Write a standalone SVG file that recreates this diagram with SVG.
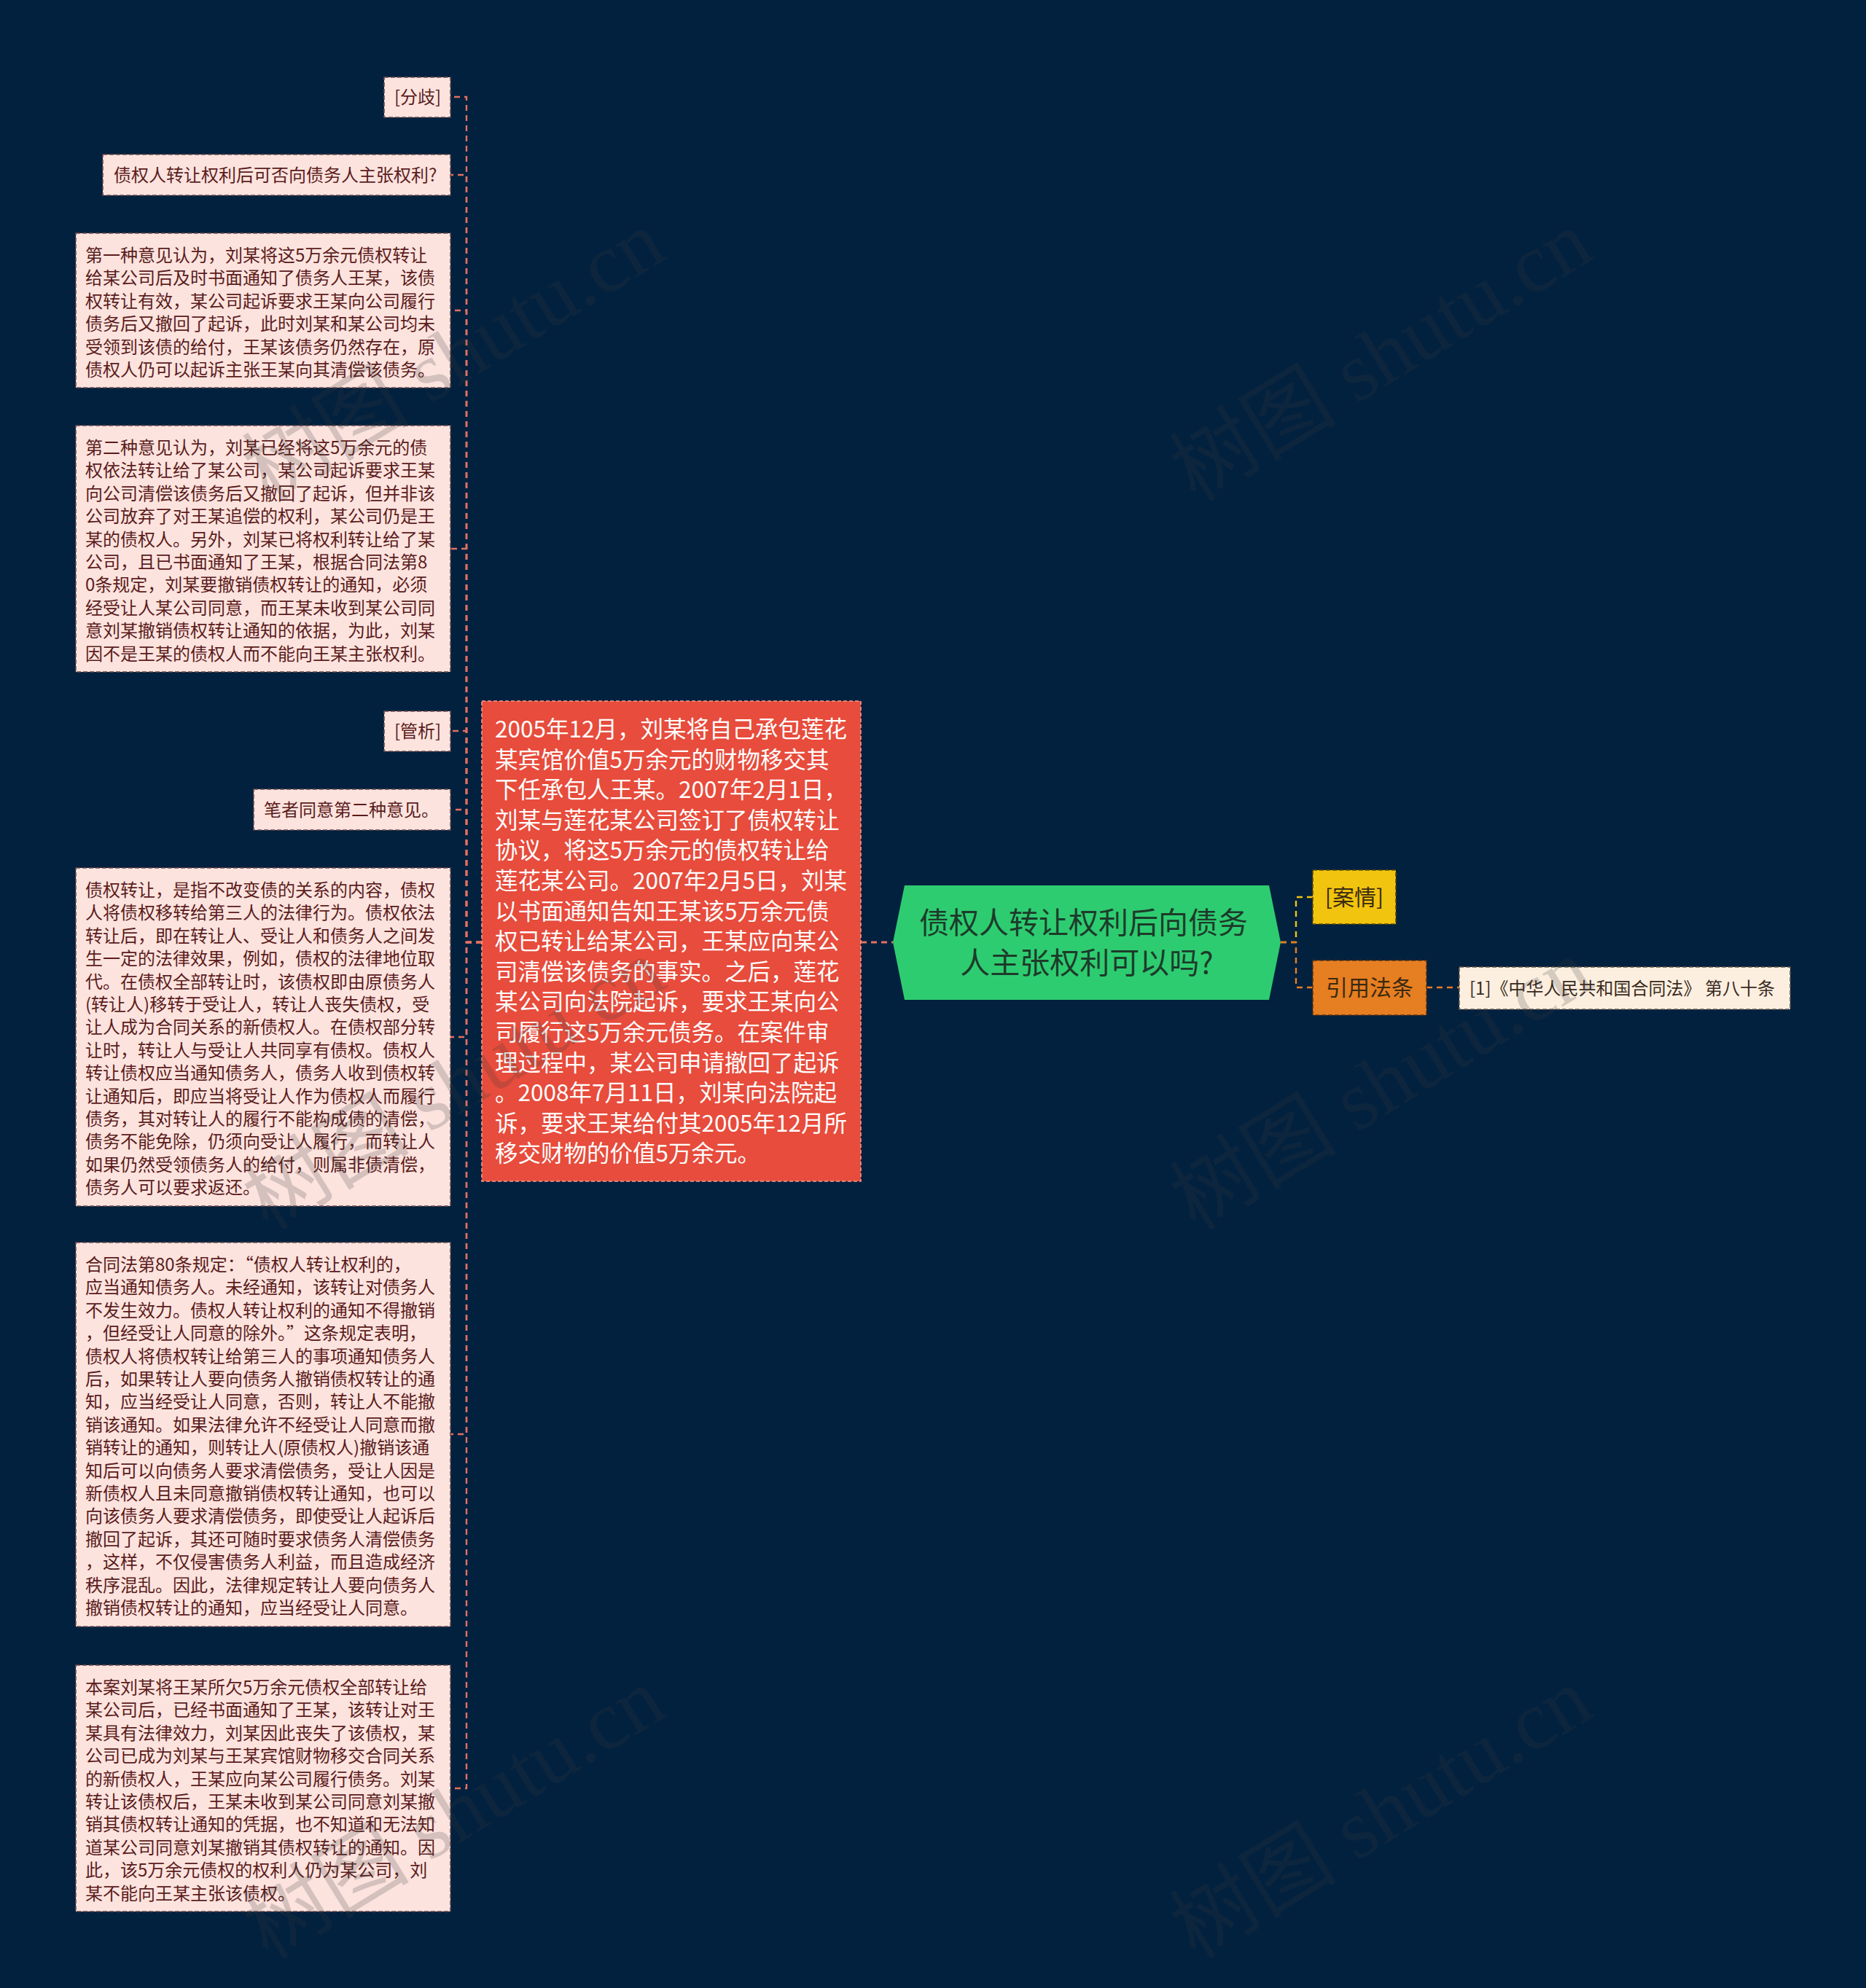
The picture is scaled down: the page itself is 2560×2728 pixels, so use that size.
<svg xmlns="http://www.w3.org/2000/svg" width="2560" height="2728" viewBox="0 0 2560 2728">
<style>
.bg{fill:#02213f}
.pk{fill:#fce3de;stroke:#6e4a4a;stroke-width:1.6;stroke-dasharray:6 3}
.pt{font-family:"Noto Sans CJK SC","Noto Sans",sans-serif;font-size:24px;fill:#5b1c1c}
.red{fill:#e74c3c;stroke:#f59a8c;stroke-width:1.6;stroke-dasharray:5 3}
.rt{font-family:"Noto Sans CJK SC","Noto Sans",sans-serif;font-size:31.5px;fill:#ffffff}
.root{fill:#2ecc71}
.roott{font-family:"Noto Sans CJK SC","Noto Sans",sans-serif;font-size:41px;fill:#1d3b2a}
.yel{fill:#f1c40f;stroke:#5e4d00;stroke-width:1.6;stroke-dasharray:6 3}
.org{fill:#e67e22;stroke:#5e3310;stroke-width:1.6;stroke-dasharray:6 3}
.big{font-family:"Noto Sans CJK SC","Noto Sans",sans-serif;font-size:30px;fill:#3a2a10}
.bei{fill:#fcefe0;stroke:#6a5a4a;stroke-width:1.6;stroke-dasharray:6 3}
.bt{font-family:"Noto Sans CJK SC","Noto Sans",sans-serif;font-size:24px;fill:#3a2a20}
.cl{fill:none;stroke:#e4705f;stroke-width:2.4;stroke-dasharray:8 6}
.cy{fill:none;stroke:#f1c40f;stroke-width:2.4;stroke-dasharray:8 6}
.co{fill:none;stroke:#e67e22;stroke-width:2.4;stroke-dasharray:8 6}
.wm{font-family:"Liberation Serif","Noto Sans CJK SC",serif;font-size:115px;fill:#3a3a3a;opacity:0.2}
</style>
<rect class="bg" x="0" y="0" width="2560" height="2728"/>

<g id="connectors">
<path class="cl" d="M661 1293 H640 V133 H618"/>
<path class="cl" d="M661 1293 H640 V240 H618"/>
<path class="cl" d="M661 1293 H640 V426 H618"/>
<path class="cl" d="M661 1293 H640 V753 H618"/>
<path class="cl" d="M661 1293 H640 V1003 H618"/>
<path class="cl" d="M661 1293 H640 V1111 H618"/>
<path class="cl" d="M661 1293 H640 V1423 H618"/>
<path class="cl" d="M661 1293 H640 V1968 H618"/>
<path class="cl" d="M661 1293 H640 V2454 H618"/>
<path class="cl" style="stroke-width:3" d="M1181 1293 H1225"/>
<path class="cy" d="M1757 1293 H1778 V1231 H1801"/>
<path class="co" d="M1757 1293 H1778 V1355 H1801"/>
<path class="co" d="M1957 1355 H2002"/>
</g>

<g id="n-fenqi">
<rect class="pk" x="527" y="106" width="91" height="55"/>
<text class="pt" x="541" y="142">[分歧]</text>
</g>

<g id="n-question">
<rect class="pk" x="141" y="212" width="477" height="56"/>
<text class="pt" x="156" y="249">债权人转让权利后可否向债务人主张权利?</text>
</g>

<g id="n-opinion1">
<rect class="pk" x="104" y="320" width="514" height="212"/>
<text class="pt">
<tspan x="117" y="359">第一种意见认为，刘某将这5万余元债权转让</tspan>
<tspan x="117" dy="31.4">给某公司后及时书面通知了债务人王某，该债</tspan>
<tspan x="117" dy="31.4">权转让有效，某公司起诉要求王某向公司履行</tspan>
<tspan x="117" dy="31.4">债务后又撤回了起诉，此时刘某和某公司均未</tspan>
<tspan x="117" dy="31.4">受领到该债的给付，王某该债务仍然存在，原</tspan>
<tspan x="117" dy="31.4">债权人仍可以起诉主张王某向其清偿该债务。</tspan>
</text>
</g>

<g id="n-opinion2">
<rect class="pk" x="104" y="584" width="514" height="338"/>
<text class="pt">
<tspan x="117" y="623">第二种意见认为，刘某已经将这5万余元的债</tspan>
<tspan x="117" dy="31.4">权依法转让给了某公司，某公司起诉要求王某</tspan>
<tspan x="117" dy="31.4">向公司清偿该债务后又撤回了起诉，但并非该</tspan>
<tspan x="117" dy="31.4">公司放弃了对王某追偿的权利，某公司仍是王</tspan>
<tspan x="117" dy="31.4">某的债权人。另外，刘某已将权利转让给了某</tspan>
<tspan x="117" dy="31.4">公司，且已书面通知了王某，根据合同法第8</tspan>
<tspan x="117" dy="31.4">0条规定，刘某要撤销债权转让的通知，必须</tspan>
<tspan x="117" dy="31.4">经受让人某公司同意，而王某未收到某公司同</tspan>
<tspan x="117" dy="31.4">意刘某撤销债权转让通知的依据，为此，刘某</tspan>
<tspan x="117" dy="31.4">因不是王某的债权人而不能向王某主张权利。</tspan>
</text>
</g>

<g id="n-guanxi">
<rect class="pk" x="527" y="976" width="91" height="55"/>
<text class="pt" x="541" y="1012">[管析]</text>
</g>

<g id="n-author">
<rect class="pk" x="348" y="1083" width="270" height="56"/>
<text class="pt" x="362" y="1120">笔者同意第二种意见。</text>
</g>

<g id="n-transfer">
<rect class="pk" x="104" y="1191" width="514" height="464"/>
<text class="pt">
<tspan x="117" y="1230">债权转让，是指不改变债的关系的内容，债权</tspan>
<tspan x="117" dy="31.4">人将债权移转给第三人的法律行为。债权依法</tspan>
<tspan x="117" dy="31.4">转让后，即在转让人、受让人和债务人之间发</tspan>
<tspan x="117" dy="31.4">生一定的法律效果，例如，债权的法律地位取</tspan>
<tspan x="117" dy="31.4">代。在债权全部转让时，该债权即由原债务人</tspan>
<tspan x="117" dy="31.4">(转让人)移转于受让人，转让人丧失债权，受</tspan>
<tspan x="117" dy="31.4">让人成为合同关系的新债权人。在债权部分转</tspan>
<tspan x="117" dy="31.4">让时，转让人与受让人共同享有债权。债权人</tspan>
<tspan x="117" dy="31.4">转让债权应当通知债务人，债务人收到债权转</tspan>
<tspan x="117" dy="31.4">让通知后，即应当将受让人作为债权人而履行</tspan>
<tspan x="117" dy="31.4">债务，其对转让人的履行不能构成债的清偿，</tspan>
<tspan x="117" dy="31.4">债务不能免除，仍须向受让人履行，而转让人</tspan>
<tspan x="117" dy="31.4">如果仍然受领债务人的给付，则属非债清偿，</tspan>
<tspan x="117" dy="31.4">债务人可以要求返还。</tspan>
</text>
</g>

<g id="n-art80">
<rect class="pk" x="104" y="1705" width="514" height="527"/>
<text class="pt">
<tspan x="117" y="1744">合同法第80条规定：“债权人转让权利的，</tspan>
<tspan x="117" dy="31.4">应当通知债务人。未经通知，该转让对债务人</tspan>
<tspan x="117" dy="31.4">不发生效力。债权人转让权利的通知不得撤销</tspan>
<tspan x="117" dy="31.4">，但经受让人同意的除外。”这条规定表明，</tspan>
<tspan x="117" dy="31.4">债权人将债权转让给第三人的事项通知债务人</tspan>
<tspan x="117" dy="31.4">后，如果转让人要向债务人撤销债权转让的通</tspan>
<tspan x="117" dy="31.4">知，应当经受让人同意，否则，转让人不能撤</tspan>
<tspan x="117" dy="31.4">销该通知。如果法律允许不经受让人同意而撤</tspan>
<tspan x="117" dy="31.4">销转让的通知，则转让人(原债权人)撤销该通</tspan>
<tspan x="117" dy="31.4">知后可以向债务人要求清偿债务，受让人因是</tspan>
<tspan x="117" dy="31.4">新债权人且未同意撤销债权转让通知，也可以</tspan>
<tspan x="117" dy="31.4">向该债务人要求清偿债务，即使受让人起诉后</tspan>
<tspan x="117" dy="31.4">撤回了起诉，其还可随时要求债务人清偿债务</tspan>
<tspan x="117" dy="31.4">，这样，不仅侵害债务人利益，而且造成经济</tspan>
<tspan x="117" dy="31.4">秩序混乱。因此，法律规定转让人要向债务人</tspan>
<tspan x="117" dy="31.4">撤销债权转让的通知，应当经受让人同意。</tspan>
</text>
</g>

<g id="n-thiscase">
<rect class="pk" x="104" y="2285" width="514" height="338"/>
<text class="pt">
<tspan x="117" y="2324">本案刘某将王某所欠5万余元债权全部转让给</tspan>
<tspan x="117" dy="31.4">某公司后，已经书面通知了王某，该转让对王</tspan>
<tspan x="117" dy="31.4">某具有法律效力，刘某因此丧失了该债权，某</tspan>
<tspan x="117" dy="31.4">公司已成为刘某与王某宾馆财物移交合同关系</tspan>
<tspan x="117" dy="31.4">的新债权人，王某应向某公司履行债务。刘某</tspan>
<tspan x="117" dy="31.4">转让该债权后，王某未收到某公司同意刘某撤</tspan>
<tspan x="117" dy="31.4">销其债权转让通知的凭据，也不知道和无法知</tspan>
<tspan x="117" dy="31.4">道某公司同意刘某撤销其债权转让的通知。因</tspan>
<tspan x="117" dy="31.4">此，该5万余元债权的权利人仍为某公司，刘</tspan>
<tspan x="117" dy="31.4">某不能向王某主张该债权。</tspan>
</text>
</g>

<g id="n-case">
<rect class="red" x="661" y="962" width="520" height="659"/>
<text class="rt">
<tspan x="679" y="1012">2005年12月，刘某将自己承包莲花</tspan>
<tspan x="679" dy="41.6">某宾馆价值5万余元的财物移交其</tspan>
<tspan x="679" dy="41.6">下任承包人王某。2007年2月1日，</tspan>
<tspan x="679" dy="41.6">刘某与莲花某公司签订了债权转让</tspan>
<tspan x="679" dy="41.6">协议，将这5万余元的债权转让给</tspan>
<tspan x="679" dy="41.6">莲花某公司。2007年2月5日，刘某</tspan>
<tspan x="679" dy="41.6">以书面通知告知王某该5万余元债</tspan>
<tspan x="679" dy="41.6">权已转让给某公司，王某应向某公</tspan>
<tspan x="679" dy="41.6">司清偿该债务的事实。之后，莲花</tspan>
<tspan x="679" dy="41.6">某公司向法院起诉，要求王某向公</tspan>
<tspan x="679" dy="41.6">司履行这5万余元债务。在案件审</tspan>
<tspan x="679" dy="41.6">理过程中，某公司申请撤回了起诉</tspan>
<tspan x="679" dy="41.6">。2008年7月11日，刘某向法院起</tspan>
<tspan x="679" dy="41.6">诉，要求王某给付其2005年12月所</tspan>
<tspan x="679" dy="41.6">移交财物的价值5万余元。</tspan>
</text>
</g>

<g id="n-root">
<polygon class="root" points="1225,1293 1241,1215 1741,1215 1757,1293 1741,1372 1241,1372"/>
<text class="roott" text-anchor="middle">
<tspan x="1491" y="1281">债权人转让权利后向债务</tspan>
<tspan x="1491" y="1336">人主张权利可以吗?</tspan>
</text>
</g>

<g id="n-anqing">
<rect class="yel" x="1801" y="1194" width="114" height="74"/>
<text class="big" x="1858" y="1242" text-anchor="middle">[案情]</text>
</g>

<g id="n-yinyong">
<rect class="org" x="1801" y="1318" width="156" height="75"/>
<text class="big" x="1879" y="1366" text-anchor="middle">引用法条</text>
</g>

<g id="n-law">
<rect class="bei" x="2002" y="1327" width="454" height="58"/>
<text class="bt" x="2016" y="1365">[1]《中华人民共和国合同法》 第八十条</text>
</g>

<g id="watermarks">
<text class="wm" transform="translate(368,690) rotate(-31.5)">树图 shutu.cn</text>
<text class="wm" transform="translate(1640,690) rotate(-31.5)">树图 shutu.cn</text>
<text class="wm" transform="translate(368,1690) rotate(-31.5)">树图 shutu.cn</text>
<text class="wm" transform="translate(1640,1690) rotate(-31.5)">树图 shutu.cn</text>
<text class="wm" transform="translate(368,2690) rotate(-31.5)">树图 shutu.cn</text>
<text class="wm" transform="translate(1640,2690) rotate(-31.5)">树图 shutu.cn</text>
</g>
</svg>
